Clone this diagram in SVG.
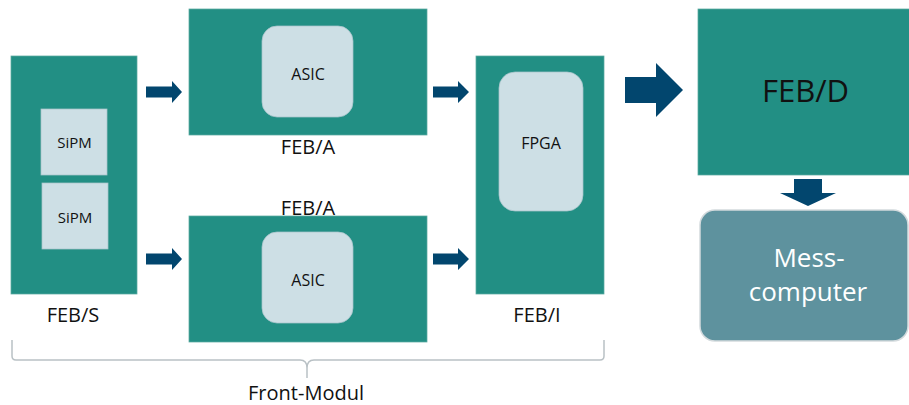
<svg xmlns="http://www.w3.org/2000/svg" width="909" height="405" viewBox="0 0 909 405">
<style>
.board{fill:#228f84;stroke:#5aa9a0;stroke-width:0.75}
.chip{fill:#cddfe5;stroke:#a9c4cb;stroke-width:0.75}
.arrow{fill:#02466e}
.t{font-family:"Open Sans","Noto Sans","DejaVu Sans",sans-serif;fill:#111;text-anchor:middle}
.s16{font-size:16px}
.s15{font-size:15px}
.s20{font-size:20px}
.brace{fill:none;stroke:#b9c1c5;stroke-width:1.5}
</style>
<rect width="909" height="405" fill="#ffffff"/>
<g id="feb-s">
<rect class="board" x="11" y="56" width="126" height="238"/>
<g id="sipm-1"><rect class="chip" x="41" y="109" width="66" height="66"/><text class="t s15" x="74.5" y="148">SiPM</text></g>
<g id="sipm-2"><rect class="chip" x="42" y="183" width="66" height="66"/><text class="t s15" x="75" y="223">SiPM</text></g>
<text class="t s20" x="73" y="322">FEB/S</text>
</g>
<g id="feb-a-top">
<rect class="board" x="189" y="9" width="238" height="126"/>
<rect class="chip" x="262" y="26" width="91" height="91" rx="15"/>
<text class="t s16" x="308" y="80">ASIC</text>
<text class="t s20" x="308" y="154">FEB/A</text>
</g>
<g id="feb-a-bottom">
<text class="t s20" x="308" y="215">FEB/A</text>
<rect class="board" x="189" y="216" width="238" height="126"/>
<rect class="chip" x="262" y="232" width="91" height="91" rx="15"/>
<text class="t s16" x="308" y="286">ASIC</text>
</g>
<g id="feb-i">
<rect class="board" x="476" y="56" width="128" height="238"/>
<rect class="chip" x="499" y="72" width="84" height="139" rx="16"/>
<text class="t s16" x="541" y="149">FPGA</text>
<text class="t s20" x="537" y="322">FEB/I</text>
</g>
<g id="feb-d">
<rect class="board" x="698" y="9" width="212" height="166"/>
<text class="t" style="font-size:31px" x="805.5" y="102">FEB/D</text>
</g>
<g id="messcomputer">
<rect x="700" y="210" width="208" height="131" rx="15" fill="#5e929e" stroke="#d3dadd" stroke-width="1.5"/>
<text class="t" style="font-size:26px;fill:#ffffff" x="809" y="267">Mess-</text>
<text class="t" style="font-size:26px;fill:#ffffff" x="808" y="301">computer</text>
</g>
<g id="front-modul">
<path class="brace" d="M12,340 V356 Q12,360 16,360 H300 Q307,360 307,368 V378 M307,368 Q307,360 314,360 H600 Q604,360 604,356 V340"/>
<text class="t s20" x="306" y="400">Front-Modul</text>
</g>
<g id="connectors">
<path class="arrow" d="M146,86.5 H172 V81 L182,92 L172,103 V97.5 H146 Z"/>
<path class="arrow" d="M146,253.5 H172 V248 L182,259 L172,270 V264.5 H146 Z"/>
<path class="arrow" d="M433,86.5 H458 V81 L469,92 L458,103 V97.5 H433 Z"/>
<path class="arrow" d="M433,253.5 H458 V248 L469,259 L458,270 V264.5 H433 Z"/>
<path class="arrow" d="M625,77 H656 V63 L683,90 L656,117 V103 H625 Z"/>
<path class="arrow" d="M794,179 H822 V193 H836 L808,206 L780,193 H794 Z"/>
</g>
</svg>
